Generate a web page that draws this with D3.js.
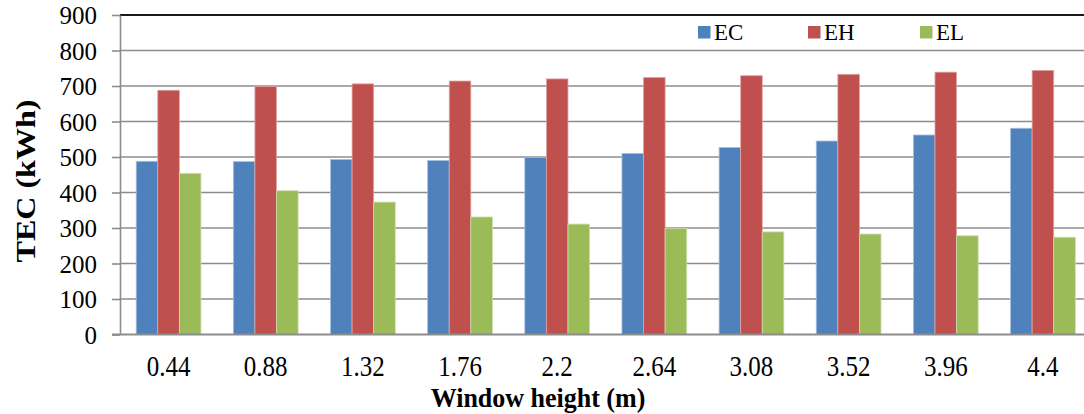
<!DOCTYPE html>
<html>
<head>
<meta charset="utf-8">
<script src="https://cdn.jsdelivr.net/npm/d3@7"></script>
<style>
  html, body { margin: 0; padding: 0; background: #fff; }
  svg { display: block; }
</style>
</head>
<body>
<svg id="chart" width="1084" height="414"></svg>
<script>
const categories = ["0.44", "0.88", "1.32", "1.76", "2.2", "2.64", "3.08", "3.52", "3.96", "4.4"];
const seriesNames = ["EC", "EH", "EL"];
const EC = [488, 487, 493, 490, 499, 510, 527, 545, 562, 581];
const EH = [688, 699, 706, 714, 720, 724, 729, 733, 739, 744];
const EL = [454, 405, 373, 331, 311, 299, 289, 283, 278, 274];
const yTicks = [0, 100, 200, 300, 400, 500, 600, 700, 800, 900];
const colors = ["#4F81BD", "#C0504D", "#9BBB59"];
const strokes = ["#a9c0e0", "#e2a5a3", "#cddcae"];

const seriesValues = [EC, EH, EL];
const SERIF = "'Liberation Serif', 'Times New Roman', serif";

const svg = d3.select("#chart");
const pLeft = 120, pRight = 1091.5, pTop = 15, pBottom = 334.5;

const x = d3.scaleBand().domain(categories).range([pLeft, pRight]).paddingInner(0).paddingOuter(0);
const y = d3.scaleLinear().domain([0, 900]).range([pBottom, pTop]);
const bw = x.bandwidth() / 4.5;
const xs = d3.scaleBand().domain(seriesNames).range([0.75 * bw, 3.75 * bw]).padding(0);

// gridlines
svg.append("g").selectAll("line").data(yTicks.filter(d => d > 0 && d < 900)).join("line")
  .attr("x1", pLeft).attr("x2", 1084)
  .attr("y1", d => y(d)).attr("y2", d => y(d))
  .attr("stroke", "#8c8c8c").attr("stroke-width", 1.6);
// top border
svg.append("line").attr("x1", pLeft).attr("x2", 1084).attr("y1", y(900)).attr("y2", y(900))
  .attr("stroke", "#1a1a1a").attr("stroke-width", 2);

// bars
const g = svg.append("g");
seriesNames.forEach((s, si) => {
  g.selectAll("rect.s" + si).data(categories).join("rect")
    .attr("class", "s" + si)
    .attr("x", (c) => x(c) + xs(s))
    .attr("width", xs.bandwidth())
    .attr("y", (c, i) => y(seriesValues[si][i]))
    .attr("height", (c, i) => y(0) - y(seriesValues[si][i]))
    .attr("fill", colors[si])
    .attr("stroke", strokes[si]).attr("stroke-width", 0.8);
});

// y axis
const yAxis = d3.axisLeft(y).tickValues(yTicks).tickSize(8).tickSizeOuter(0).tickPadding(15);
const ya = svg.append("g").attr("transform", `translate(${pLeft},0)`).call(yAxis)
  .attr("font-family", null).attr("font-size", null);
ya.select(".domain").attr("stroke", "#8c8c8c").attr("stroke-width", 1.6);
ya.selectAll(".tick line").attr("stroke", "#8c8c8c").attr("stroke-width", 1.6);
ya.selectAll(".tick text").style("font-family", SERIF).style("font-size", "25px")
  .attr("fill", "#000").attr("dy", "0.34em");

// x axis
const xAxis = d3.axisBottom(x).tickSize(0).tickSizeOuter(0).tickPadding(0);
const xa = svg.append("g").attr("transform", `translate(0,${pBottom})`).call(xAxis)
  .attr("font-family", null).attr("font-size", null);
xa.select(".domain").attr("stroke", "#8c8c8c").attr("stroke-width", 2)
  .attr("d", `M${pLeft - 8},0H1084`);
xa.selectAll(".tick text").style("font-family", SERIF).style("font-size", "25px")
  .attr("fill", "#000").attr("dy", null).attr("y", 0)
  .attr("transform", "translate(0,41.5) scale(1,1.15)");

// axis titles
svg.append("text").attr("transform", "translate(538,406.5) scale(1,1.07)")
  .attr("text-anchor", "middle").style("font-family", SERIF).style("font-size", "26px").style("font-weight", "bold")
  .text("Window height (m)");
svg.append("text").attr("transform", "translate(35,181) rotate(-90)")
  .attr("text-anchor", "middle").style("font-family", SERIF).style("font-size", "27px").style("font-weight", "bold")
  .attr("textLength", 163).attr("lengthAdjust", "spacingAndGlyphs")
  .text("TEC (kWh)");

// legend
const legX = [698, 808, 920];
const lg = svg.append("g");
seriesNames.forEach((s, i) => {
  lg.append("rect").attr("x", legX[i]).attr("y", 26).attr("width", 12.5).attr("height", 12.5).attr("fill", colors[i]);
  lg.append("text").attr("x", legX[i] + 16).attr("y", 39.5)
    .style("font-family", SERIF).style("font-size", "23px").text(s);
});
</script>
</body>
</html>
